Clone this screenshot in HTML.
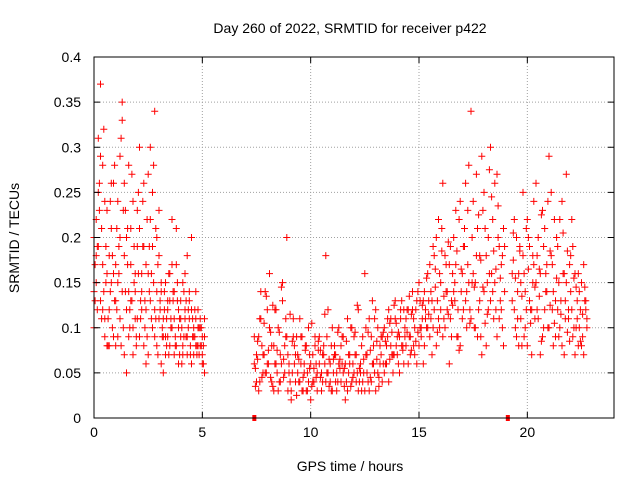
<!DOCTYPE html>
<html><head><meta charset="utf-8"><style>
body{margin:0;background:#fff}
svg{display:block;font-family:"Liberation Sans",sans-serif}
</style></head><body>
<svg id="chart" width="640" height="480">
<text x="350" y="33" font-size="14" text-anchor="middle">Day 260 of 2022, SRMTID for receiver p422</text>
<text x="350" y="471" font-size="14" text-anchor="middle">GPS time / hours</text>
<text transform="translate(19,238) rotate(-90)" font-size="14" text-anchor="middle">SRMTID / TECUs</text>
<g id="grid"></g><g id="pts"></g><g id="axes"></g>
</svg>
<script>
const xTicks=[0,5,10,15,20];
const yTicks=[0,0.05,0.1,0.15,0.2,0.25,0.3,0.35,0.4];
const yTickLabels=["0","0.05","0.1","0.15","0.2","0.25","0.3","0.35","0.4"];
const gapMarkers=[7.4,19.1];
const segAStart=0, segAStart2=0.05, segBStart=7.4, segBStart2=7.45, sampleStep=0.1;
const segA1=[14,22,31,37,17,9,16,12,21,26,8,15,29,35,7,20,28,13,24,11,19,30,16,8,12,27,22,10,34,14,18,6,11,15,9,13,22,7,17,10,13,8,12,18,11,6,9,14,8,11,6,5];
const segA2=[20,18,25,13,28,11,23,8,15,9,17,24,11,33,18,5,14,21,10,16,23,9,14,26,17,7,30,19,12,8,23,14,9,7,12,16,10,14,8,12,9,15,11,7,13,20,10,8,12,10,7,9];
const segA3=[10,15,19,29,12,24,8,18,26,16,13,9,20,14,26,12,9,17,7,14,11,21,12,19,6,16,13,25,9,20,11,15,5,9,13,8,17,11,21,6,11,7,16,9,14,12,7,11,10,8,9,11];
const segA4=[17,12,26,21,14,19,11,24,18,13,21,16,31,10,23,17,12,27,15,9,25,13,19,10,22,14,16,28,11,17,13,9,12,8,16,11,14,9,13,7,10,14,9,12,8,11,9,7,10,8,6];
const segA5=[13,19,23,11,32,15,8,14,10,28,12,19,8,23,14,21,10,13,19,8,16,11,24,13,9,19,11,15,21,7,12,10,14,11,7,10,13,8,15,11,6,9,13,10,7,9,12,8,7,10,8];
const segB1=[6,4,9,14,7,5,12,16,8,3, 6,10,4,13,8,20,5,3,9,7, 5,11,3,6,8,4,2,7,9,5, 6,3,8,18,5,4,10,7,3,6, 8,5,2,11,6,4,9,7,3,5, 4,16,7,3,9,6,12,5,8,4, 10,6,12,8,5,11,7,9,13,6, 8,12,7,14,10,6,15,9,13,11, 16,9,13,18,8,22,12,26,10,14, 6,13,20,17,9,24,11,19,14,28, 34,16,10,21,13,7,25,18,12,30, 22,15,27,11,17,21,null,null,null,16, 12,20,8,15,18,10,22,13,7,17, 26,11,16,9,21,14,29,18,8,13, 19,10,24,7,15,12,18,9,16,11, 14,8,17,13];
const segB2=[9,7,3,11,5,14,6,10,4,8, 12,3,7,15,5,9,6,2,11,4, 7,4,9,5,3,10,6,4,8,3, 9,5,7,4,12,6,3,8,5,10, 4,9,6,3,7,10,5,4,12,6, 9,3,5,11,4,8,3,10,6,9, 5,8,4,11,7,13,9,5,8,12, 11,6,9,12,7,13,8,10,6,12, 10,17,7,12,20,11,15,9,18,12, 17,9,14,23,12,8,16,21,10,15, 11,24,15,9,18,29,14,8,20,13, 14,26,9,19,12,8,null,null,null,13, 22,9,16,11,25,14,8,19,12,24, 15,20,7,23,12,17,10,25,14,9, 12,22,8,16,27,11,14,19,7,13, 10,15,7,12];
const segB3=[5.5,8.5,11,4.5,7,13.5,6,9.5,3.5,12, 7.5,4,14.5,6.5,9,3,11.5,5,8,2.5, 6.5,9,4.5,7.5,3,5.5,10.5,4,6,8.5, 4.5,7,11.5,5,3.5,8,6.5,4,9.5,5.5, 6,3.5,8.5,5,10,4.5,7,12.5,5.5,3, 6.5,10,4,7.5,13,5,8.5,3.5,9,6, 8.5,11,6.5,9.5,7,10.5,6,12,8,10, 9.5,13.5,7.5,11,8.5,14,10,12.5,8,15.5, 13,11,19,14.5,9.5,16,21,13.5,17,11.5, 19,12.5,15,9,22,16.5,12,26,17,10.5, 20,14.5,27,12,17.5,23,10.5,15,27.5,16, 18.5,12,23.5,15.5,10,19,null,null,null,20.5, 15.5,11,19,13.5,9,21,16.5,12,18,14.5, 18,13.5,22.5,10,16,24,12.5,17,10.5,20, 15,11.5,20.5,13,9.5,17,22,10,14.5,8, 12,9,14.5,11];
const segB4=[3.5,6.5,4,8,10.5,5,7.5,4.5,12.5,6, 5,9.5,6,4.5,11,7,4,8.5,6,9, 4,6,3,8,5,7,3.5,5.5,4.5,7.5, 7.5,4,6,9,6.5,3,5,7,4,6.5, 9,5.5,4,7,3.5,6,9.5,5,4,8, 5,7,9.5,4.5,6,11,6.5,4.5,7,9.5, 6,9,10.5,7,12.5,8,9.5,11,7.5,9, 12,9,11.5,8,12,9.5,13,11,14,10, 11.5,14,10,16.5,13,10,18.5,11,14,19.5, 11,16,13,18.5,7.5,14,19,13,23,12, 15,10,18,22.5,9,14.5,21,11.5,16,24.5, 11,16.5,20,13,18,14,null,null,null,17.5, 10,14,18.5,8,16,12,20,10.5,15,11, 12,16.5,8.5,19,14,10,18.5,12,22,15.5, 9,13,16,11,18.5,8.5,12,15.5,10,16, 8.5,11.5,13,10];
const NS="http://www.w3.org/2000/svg";
const L=94,R=614,T=57,B=418;
const xs=h=>L+(h/24)*(R-L);
const ys=v=>B-(v/0.4)*(B-T);
function mk(tag,attrs,parent){const e=document.createElementNS(NS,tag);for(const k in attrs)e.setAttribute(k,attrs[k]);parent.appendChild(e);return e;}
const grid=document.getElementById('grid'),axes=document.getElementById('axes'),pts=document.getElementById('pts');
xTicks.forEach(t=>{const x=xs(t);
 if(t>0){const g=mk('line',{x1:x,x2:x,y1:T,y2:B,stroke:'#a0a0a0','stroke-dasharray':'1,2'},grid);
 
 }
 mk('line',{x1:x,x2:x,y1:B,y2:B-6,stroke:'#000'},axes);
 mk('line',{x1:x,x2:x,y1:T,y2:T+6,stroke:'#000'},axes);
 const tx=mk('text',{x:x,y:B+19,'font-size':14,'text-anchor':'middle'},axes);tx.textContent=t;
 
 });
yTicks.forEach((v,i)=>{const y=ys(v);
 if(i>0&&i<yTicks.length-1){const g=mk('line',{x1:L,x2:R,y1:y,y2:y,stroke:'#a0a0a0','stroke-dasharray':'1,2'},grid);
 
 }
 mk('line',{x1:L,x2:L+6,y1:y,y2:y,stroke:'#000'},axes);
 mk('line',{x1:R,x2:R-6,y1:y,y2:y,stroke:'#000'},axes);
 const tx=mk('text',{x:L-13,y:y+5,'font-size':14,'text-anchor':'end'},axes);tx.textContent=yTickLabels[i];
 
 });
const fr=mk('rect',{x:L,y:T,width:R-L,height:B-T,fill:'none',stroke:'#000'},axes);


function plot(arr,start){let d='';arr.forEach((v,i)=>{if(v==null)return;const x=xs(start+i*sampleStep),y=ys(v/100);
 d+=`M${(x-3.5).toFixed(1)} ${y.toFixed(1)}h7M${x.toFixed(1)} ${(y-3.5).toFixed(1)}v7`;});
 const p=mk('path',{d:d,stroke:'#f00','stroke-width':1,fill:'none'},pts);
 
 }
plot(segA1,segAStart);plot(segA2,segAStart);plot(segA3,segAStart);
plot(segA4,segAStart2);plot(segA5,segAStart2);
plot(segB1,segBStart);plot(segB2,segBStart);
plot(segB3,segBStart2);plot(segB4,segBStart2);
gapMarkers.forEach(h=>{const r=mk('rect',{x:xs(h)-2,y:B-3,width:4,height:6,fill:'#f00'},pts);
 
 });
</script>
</body></html>
